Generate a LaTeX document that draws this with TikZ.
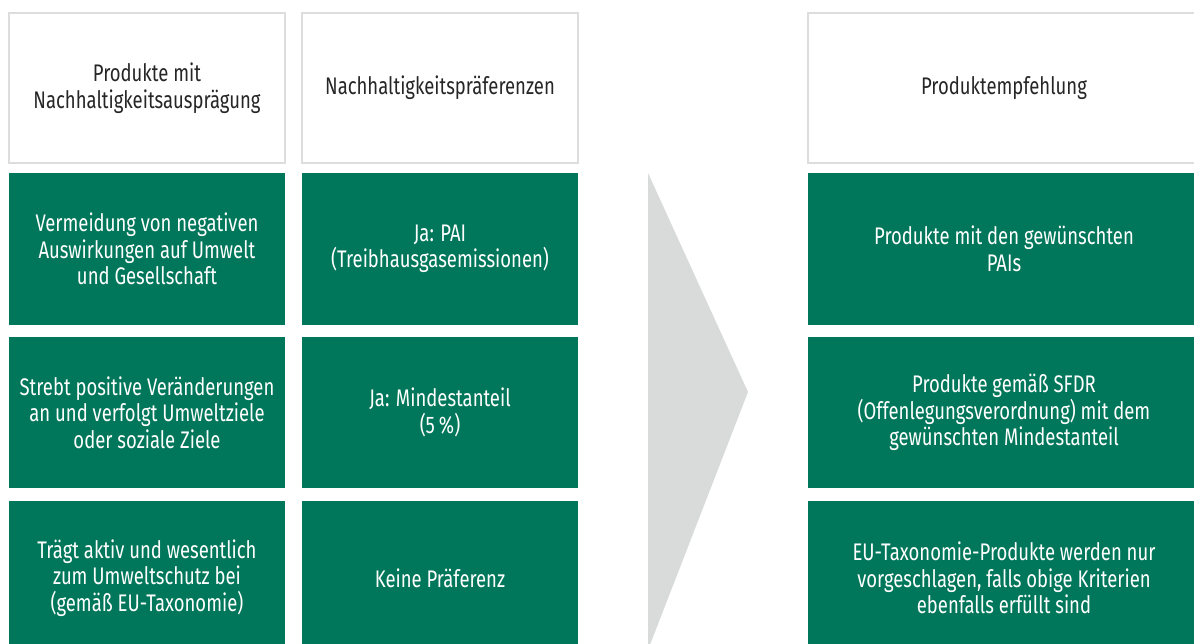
\documentclass[tikz,border=0pt]{standalone}
\usepackage{fontspec}
\setmainfont[FakeStretch=0.77]{Fira Sans}
\usepackage{tikz}
\usetikzlibrary{positioning}
\definecolor{gruen}{HTML}{00775A}
\definecolor{rahmen}{HTML}{DDDDDD}
\definecolor{pfeilgrau}{HTML}{D9DADA}
\tikzset{>=latex}
\tikzstyle{kopf} = [draw=rahmen, line width=1.2pt, fill=white, align=center, text=black!85, inner sep=0]
\tikzstyle{feld} = [draw=none, fill=gruen, align=center, text=white, inner sep=0]

\begin{document}
\begin{tikzpicture}[x=1pt, y=-1pt, font=\fontsize{24}{26.5}\selectfont]
\useasboundingbox (0,0) rectangle (1194,644);
\clip (0,0) rectangle (1194,644);
% Kopfzeile
\node [kopf, minimum width=276, minimum height=150] (K1) at (147, 88) {Produkte mit\\Nachhaltigkeitsausprägung};
\node [kopf, minimum width=276, minimum height=150] (K2) at (440, 88) {Nachhaltigkeitspräferenzen};
\node [kopf, minimum width=392, minimum height=150] (K3) at (1004, 88) {Produktempfehlung};
% Zeile 1
\node [feld, minimum width=276, minimum height=152] (A1) at (147, 249) {Vermeidung von negativen\\Auswirkungen auf Umwelt\\und Gesellschaft};
\node [feld, minimum width=276, minimum height=152] (B1) at (440, 249) {Ja: PAI\\(Treibhausgasemissionen)};
\node [feld, minimum width=392, minimum height=152] (C1) at (1004, 249) {Produkte mit den gewünschten\\PAIs};
% Zeile 2
\node [feld, minimum width=276, minimum height=151] (A2) at (147, 412.5) {Strebt positive Veränderungen\\an und verfolgt Umweltziele\\oder soziale Ziele};
\node [feld, minimum width=276, minimum height=151] (B2) at (440, 412.5) {Ja: Mindestanteil\\(5\,\%)};
\node [feld, minimum width=392, minimum height=151] (C2) at (1004, 412.5) {Produkte gemäß SFDR\\(Offenlegungsverordnung) mit dem\\gewünschten Mindestanteil};
% Zeile 3
\node [feld, minimum width=276, minimum height=154] (A3) at (147, 578) {Trägt aktiv und wesentlich\\zum Umweltschutz bei\\(gemäß EU-Taxonomie)};
\node [feld, minimum width=276, minimum height=154] (B3) at (440, 578) {Keine Präferenz};
\node [feld, minimum width=392, minimum height=154] (C3) at (1004, 578) {EU-Taxonomie-Produkte werden nur\\vorgeschlagen, falls obige Kriterien\\ebenfalls erfüllt sind};
% Pfeil
\fill [pfeilgrau] (648,173) -- (748,392) -- (648,650) -- cycle;
\end{tikzpicture}
\end{document}
